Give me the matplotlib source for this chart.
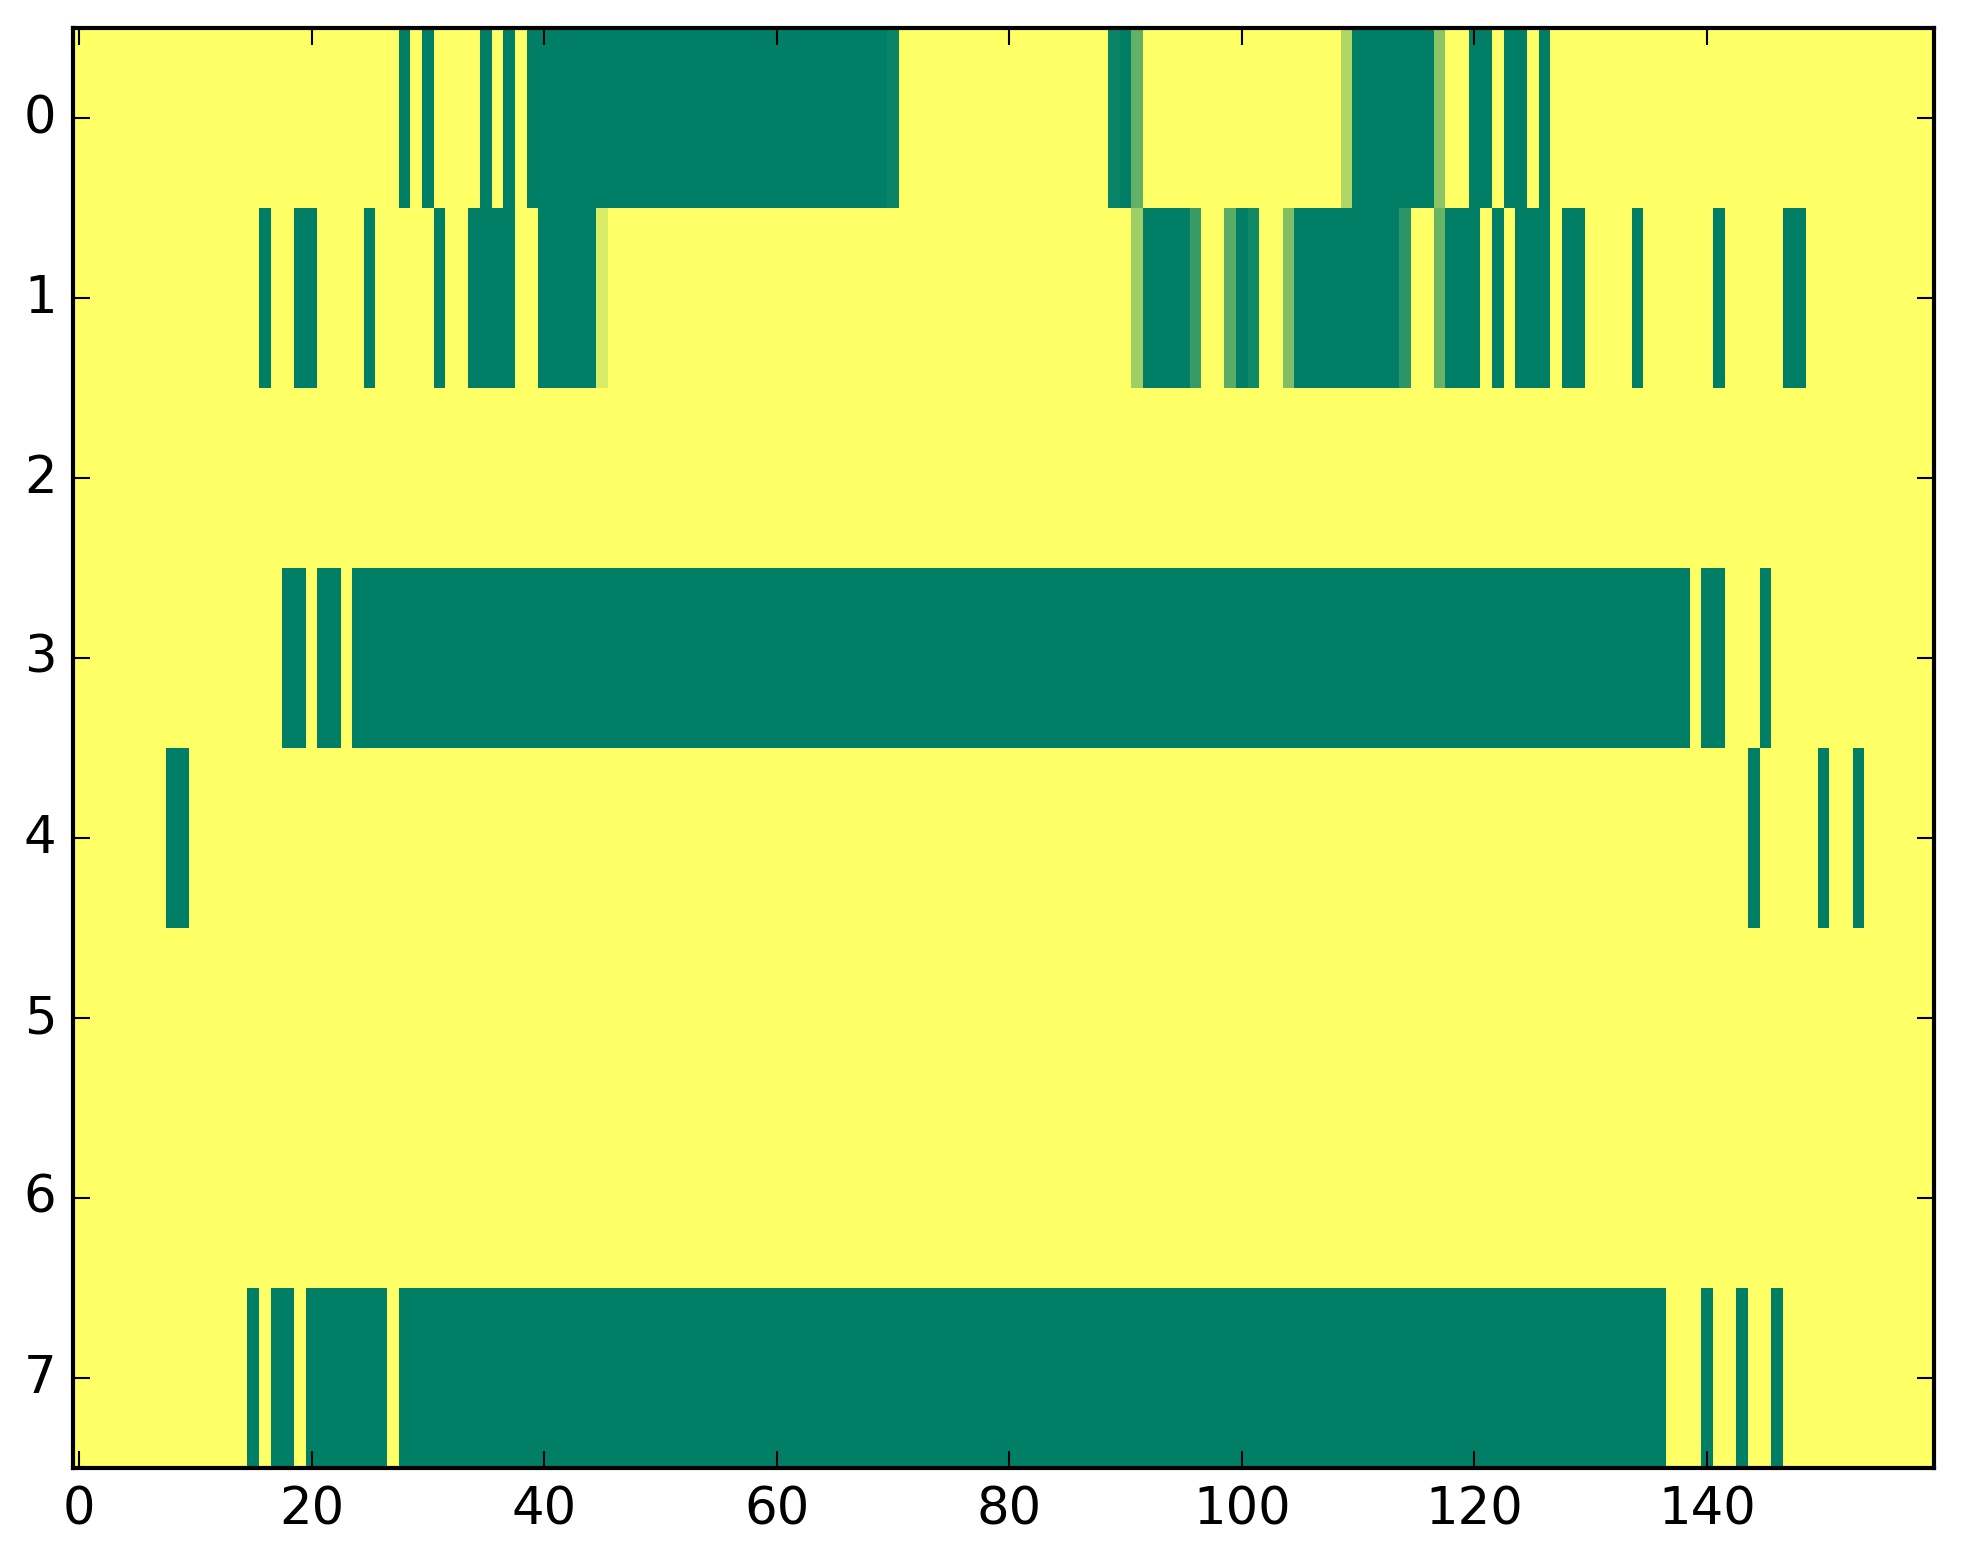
import numpy as np
import matplotlib
matplotlib.use("Agg")
import matplotlib.pyplot as plt

plt.style.use("classic")

n_rows = 8
n_cols = 160
background = 1.0

# (first column, last column, value) runs per row; every other cell is 1.0
row0_runs = [(28, 28, 0.0), (30, 30, 0.0), (35, 35, 0.0), (37, 37, 0.0),
             (39, 69, 0.0), (70, 70, 0.04),
             (89, 89, 0.04), (90, 90, 0.0), (91, 91, 0.39),
             (109, 109, 0.69), (110, 116, 0.0), (117, 117, 0.55),
             (120, 121, 0.0), (123, 124, 0.0), (126, 126, 0.0)]
row1_runs = [(16, 16, 0.0), (19, 20, 0.0), (25, 25, 0.0), (31, 31, 0.0),
             (34, 37, 0.0), (40, 44, 0.0), (45, 45, 0.85),
             (91, 91, 0.62), (92, 95, 0.0), (96, 96, 0.22),
             (99, 99, 0.35), (100, 100, 0.0), (101, 101, 0.07),
             (104, 104, 0.5), (105, 113, 0.0), (114, 114, 0.17),
             (117, 117, 0.41), (118, 120, 0.0), (122, 122, 0.0),
             (124, 126, 0.0), (128, 129, 0.0),
             (134, 134, 0.0), (141, 141, 0.0), (147, 148, 0.0)]
row2_runs = []
row3_runs = [(18, 19, 0.0), (21, 22, 0.0), (24, 138, 0.0), (140, 141, 0.0),
             (145, 145, 0.0)]
row4_runs = [(8, 9, 0.0), (144, 144, 0.0), (150, 150, 0.0), (153, 153, 0.0)]
row5_runs = []
row6_runs = []
row7_runs = [(15, 15, 0.0), (17, 18, 0.0), (20, 26, 0.0), (28, 136, 0.0),
             (140, 140, 0.0), (143, 143, 0.0), (146, 146, 0.0)]

all_runs = [row0_runs, row1_runs, row2_runs, row3_runs,
            row4_runs, row5_runs, row6_runs, row7_runs]

data = np.full((n_rows, n_cols), background)
for r, runs in enumerate(all_runs):
    for start, end, val in runs:
        data[r, start:end + 1] = val

W, H, DPI = 1963, 1564, 300
fig = plt.figure(figsize=(W / DPI, H / DPI), dpi=DPI, facecolor="white")
ax = fig.add_axes([73.2 / W, 95.0 / H, 1860.6 / W, 1440.0 / H])
ax.imshow(data, cmap="summer", vmin=0, vmax=1, interpolation="nearest",
          aspect="auto")
ax.set_xlim(-0.5, n_cols - 0.5)
ax.set_ylim(n_rows - 0.5, -0.5)
ax.set_xticks(np.arange(0, 141, 20))
ax.set_yticks(np.arange(0, 8))
ax.tick_params(labelsize=12.3)

fig.savefig("out.png", dpi=DPI, facecolor="white")
